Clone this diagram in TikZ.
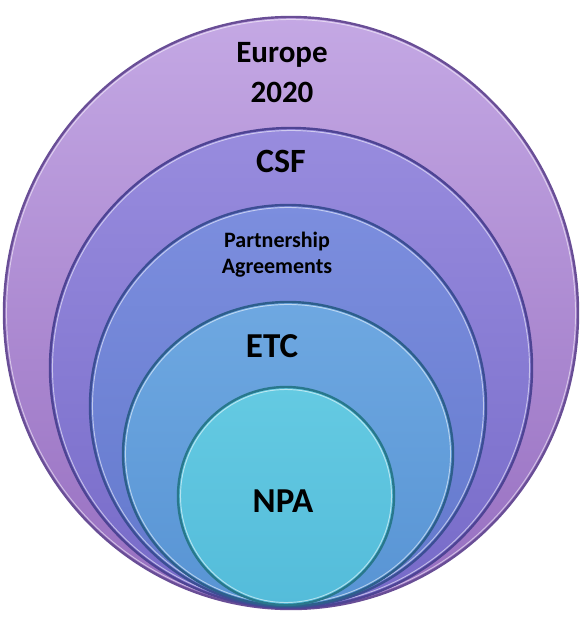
\documentclass[tikz,border=0pt]{standalone}
\usepackage{fontspec}
\setmainfont{Carlito}
\begin{document}
\begin{tikzpicture}[x=1pt,y=-1pt,
  lbl/.style={text=black, align=center, inner sep=0pt, anchor=base}]
\definecolor{euT}{RGB}{196,168,228}\definecolor{euB}{RGB}{150,110,192}\definecolor{euE}{RGB}{105,78,150}
\definecolor{csT}{RGB}{152,140,222}\definecolor{csB}{RGB}{118,106,200}\definecolor{csE}{RGB}{78,68,148}
\definecolor{paT}{RGB}{124,142,222}\definecolor{paB}{RGB}{98,120,204}\definecolor{paE}{RGB}{60,78,148}
\definecolor{etT}{RGB}{110,168,225}\definecolor{etB}{RGB}{88,148,212}\definecolor{etE}{RGB}{45,95,140}
\definecolor{npT}{RGB}{100,202,226}\definecolor{npB}{RGB}{84,188,218}\definecolor{npE}{RGB}{40,120,140}
\useasboundingbox (0,0) rectangle (581,619);
\newcommand{\myring}[7]{%
  \shade[top color=#5, bottom color=#6] (#1,#2) ellipse [x radius=#3, y radius=#4];
  \draw[#7, line width=2.4pt] (#1,#2) ellipse [x radius=#3, y radius=#4];
  \draw[white, opacity=0.55, line width=0.9pt] (#1,#2) ellipse [x radius=#3-2.5, y radius=#4-2.5];
}
\myring{291}{313}{287}{296}{euT}{euB}{euE}
\myring{291}{368}{241}{240}{csT}{csB}{csE}
\myring{288}{406}{198}{201}{paT}{paB}{paE}
\myring{288}{454}{165}{152}{etT}{etB}{etE}
\myring{286}{496}{108}{109}{npT}{npB}{npE}
\node[lbl, font=\fontsize{31}{40}\selectfont\bfseries] (eu) at (282,62) {Europe};
\node[lbl, font=\fontsize{31}{40}\selectfont\bfseries] (eu2) at (282,102) {2020};
\node[lbl, font=\fontsize{34}{40}\selectfont\bfseries] (csf) at (281,172) {CSF};
\node[lbl, font=\fontsize{22}{28}\selectfont\bfseries] (pa) at (277,247) {Partnership};
\node[lbl, font=\fontsize{22}{28}\selectfont\bfseries] (pa2) at (277,273) {Agreements};
\node[lbl, font=\fontsize{35}{40}\selectfont\bfseries] (etc) at (272,357) {ETC};
\node[lbl, font=\fontsize{35}{40}\selectfont\bfseries] (npa) at (283,512) {NPA};
\end{tikzpicture}
\end{document}
